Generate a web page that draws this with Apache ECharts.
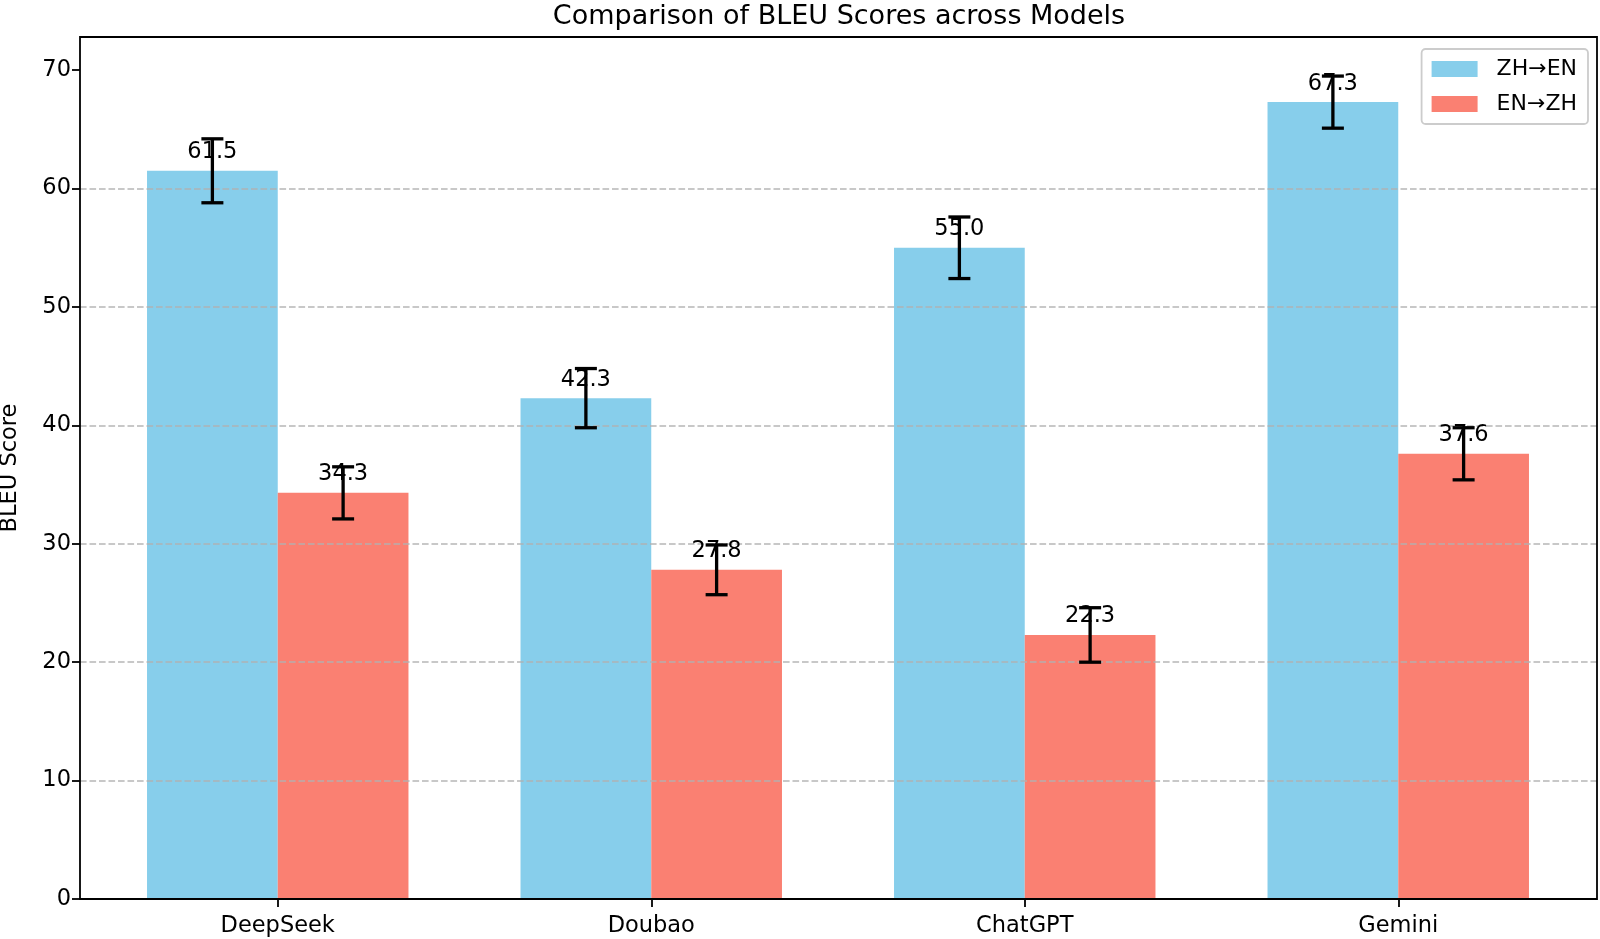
<!DOCTYPE html>
<html>
<head>
<meta charset="utf-8">
<script src="https://cdn.jsdelivr.net/npm/echarts@6/dist/echarts.min.js"></script>
<style>html,body{margin:0;padding:0;background:#fff;}#c{width:1600px;height:939px;}</style>
</head>
<body>
<div id="c"></div>
<script>
const categories = ['DeepSeek', 'Doubao', 'ChatGPT', 'Gemini'];
const seriesNames = ['ZH→EN', 'EN→ZH'];
const zhEn = [61.5, 42.3, 55.0, 67.3];
const enZh = [34.3, 27.8, 22.3, 37.6];
const zhEnErr = [2.7, 2.5, 2.6, 2.2];
const enZhErr = [2.2, 2.1, 2.3, 2.2];
const yTicks = [0, 10, 20, 30, 40, 50, 60, 70];
const yMax = 72.8;

const FONT = 'DejaVu Sans';
const chart = echarts.init(document.getElementById('c'));

function errSeries(name, sign, values, errs) {
  return {
    name: name,
    type: 'custom',
    xAxisIndex: 1,
    yAxisIndex: 1,
    z: 5,
    silent: true,
    data: values.map((v, i) => [i, v, errs[i]]),
    encode: { x: 0, y: 1 },
    renderItem: function (params, api) {
      const i = api.value(0), v = api.value(1), e = api.value(2);
      const band = api.size([1, 0])[0];
      const dx = sign * band * 0.35 / 2;
      const top = api.coord([i, v + e]);
      const bot = api.coord([i, v - e]);
      const lab = api.coord([i, v + 1]);
      const x = top[0] + dx;
      const cap = 11;
      const st = { stroke: '#000', lineWidth: 3.3 };
      return {
        type: 'group',
        children: [
          { type: 'text', x: x, y: lab[1] + 5, style: { text: v.toFixed(1), align: 'center', verticalAlign: 'bottom', fontSize: 22.5, fontFamily: FONT, fill: '#000' } },
          { type: 'line', shape: { x1: x, y1: top[1], x2: x, y2: bot[1] }, style: st },
          { type: 'line', shape: { x1: x - cap, y1: top[1], x2: x + cap, y2: top[1] }, style: st },
          { type: 'line', shape: { x1: x - cap, y1: bot[1], x2: x + cap, y2: bot[1] }, style: st }
        ]
      };
    }
  };
}

const option = {
  animation: false,
  backgroundColor: '#fff',
  textStyle: { fontFamily: FONT },
  title: {
    text: 'Comparison of BLEU Scores across Models',
    left: 839, top: 3, textAlign: 'center', padding: 0,
    textStyle: { fontSize: 27, fontWeight: 'normal', color: '#000', fontFamily: FONT }
  },
  legend: {
    data: seriesNames,
    orient: 'vertical',
    right: 12, top: 49,
    itemWidth: 46, itemHeight: 16, itemGap: 13,
    icon: 'rect',
    padding: [9, 11, 9, 10],
    borderColor: '#cccccc', borderWidth: 1.8, borderRadius: 4,
    backgroundColor: 'rgba(255,255,255,0.8)',
    textStyle: { fontSize: 22, lineHeight: 22, color: '#000', fontFamily: FONT, padding: [0, 0, 0, 14] }
  },
  grid: [
    { left: 80, right: 3, top: 37, bottom: 40, show: true, borderColor: '#000', borderWidth: 1.8, backgroundColor: 'transparent', z: 6, outerBoundsMode: 'none', containLabel: false },
    { left: 91, right: 15, top: 37, bottom: 40, outerBoundsMode: 'none', containLabel: false }
  ],
  xAxis: [
    { type: 'value', gridIndex: 0, min: 0, max: 1, show: false },
    {
      type: 'category', gridIndex: 1, data: categories,
      axisLine: { show: false },
      axisTick: { show: true, alignWithLabel: true, length: 8, lineStyle: { color: '#000', width: 1.8 } },
      axisLabel: { fontSize: 22.5, color: '#000', margin: 16, fontFamily: FONT },
      splitLine: { show: false }
    }
  ],
  yAxis: [
    {
      type: 'value', gridIndex: 0, min: 0, max: yMax, interval: 10, z: 5,
      name: 'BLEU Score', nameLocation: 'middle', nameRotate: 90, nameGap: 58,
      nameTextStyle: { fontSize: 22.5, color: '#000', fontFamily: FONT },
      axisLine: { show: false },
      axisTick: { show: true, length: 8, customValues: yTicks, lineStyle: { color: '#000', width: 1.8 } },
      axisLabel: { fontSize: 22.5, color: '#000', margin: 9, customValues: yTicks, fontFamily: FONT },
      splitLine: { show: true, showMinLine: false, showMaxLine: false, lineStyle: { color: 'rgba(176,176,176,0.7)', width: 1.8, type: [6.6, 2.9] } }
    },
    { type: 'value', gridIndex: 1, min: 0, max: yMax, show: false }
  ],
  series: [
    { name: seriesNames[0], type: 'bar', xAxisIndex: 1, yAxisIndex: 1, data: zhEn, barWidth: '35%', barGap: '0%', itemStyle: { color: '#87CEEB' } },
    { name: seriesNames[1], type: 'bar', xAxisIndex: 1, yAxisIndex: 1, data: enZh, barWidth: '35%', barGap: '0%', itemStyle: { color: '#FA8072' } },
    errSeries('err1', -1, zhEn, zhEnErr),
    errSeries('err2', 1, enZh, enZhErr)
  ]
};
chart.setOption(option);
</script>
</body>
</html>
